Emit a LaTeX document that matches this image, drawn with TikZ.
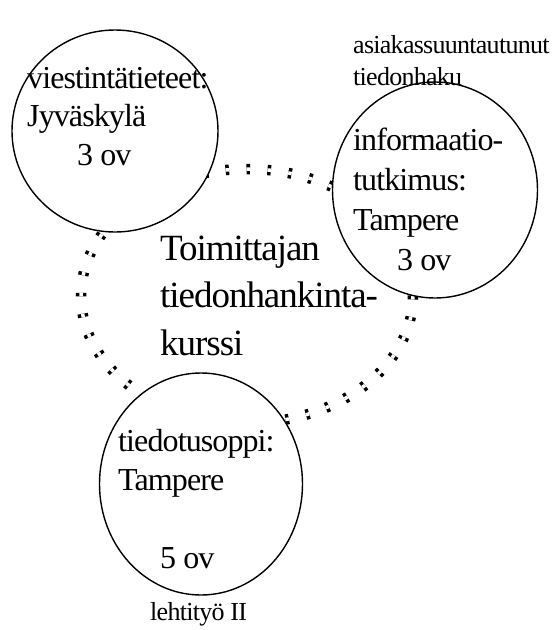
\documentclass[tikz,border=0pt]{standalone}
\usepackage{fontspec}
\setmainfont[LetterSpace=-2.8]{Liberation Serif}
\usetikzlibrary{shapes.geometric}
\def\drawring{\draw[line width=3.5pt, double distance=3.5pt, dash pattern=on 3.5pt off 17.5pt]}
\def\coursenode{\node[ellipse,draw=black,fill=white,line width=1.4pt,inner sep=0pt]}
\def\textnode{\node[anchor=base west,align=left,inner sep=0pt]}
\begin{document}
\begin{tikzpicture}[x=1pt,y=-1pt]
\useasboundingbox (0,0) rectangle (554,630);
% dotted ring behind the three courses
\drawring (247,296) ellipse (166 and 127);
\coursenode[minimum width=206pt,minimum height=202pt] (jkl) at (115,131) {};
\coursenode[minimum width=205pt,minimum height=216pt] (tre) at (435,190) {};
\coursenode[minimum width=203pt,minimum height=222pt] (tied) at (201,484) {};
% texts, placed at the baseline of their last line
\textnode[font=\fontsize{32}{38.5}\selectfont] (jkltxt) at (27,165)
  {viestintätieteet:\\Jyväskylä\\\hspace*{50pt}3 ov};
\textnode[font=\fontsize{32}{40}\selectfont] (tretxt) at (353,270)
  {informaatio-\\tutkimus:\\Tampere\\\hspace*{44pt}3 ov};
\textnode[font=\fontsize{32}{39}\selectfont] (tiedtxt) at (118,568)
  {tiedotusoppi:\\Tampere\\[39pt]\hspace*{42pt}5 ov};
\textnode[font=\fontsize{37}{47.5}\selectfont] (kurssi) at (160,355)
  {Toimittajan\\tiedonhankinta-\\kurssi};
\textnode[font=\fontsize{26}{32}\selectfont] (haku) at (353,85)
  {asiakassuuntautunut\\tiedonhaku};
\textnode[font=\fontsize{26}{30}\selectfont] (lehti) at (150,620) {lehtityö II};
\end{tikzpicture}
\end{document}
